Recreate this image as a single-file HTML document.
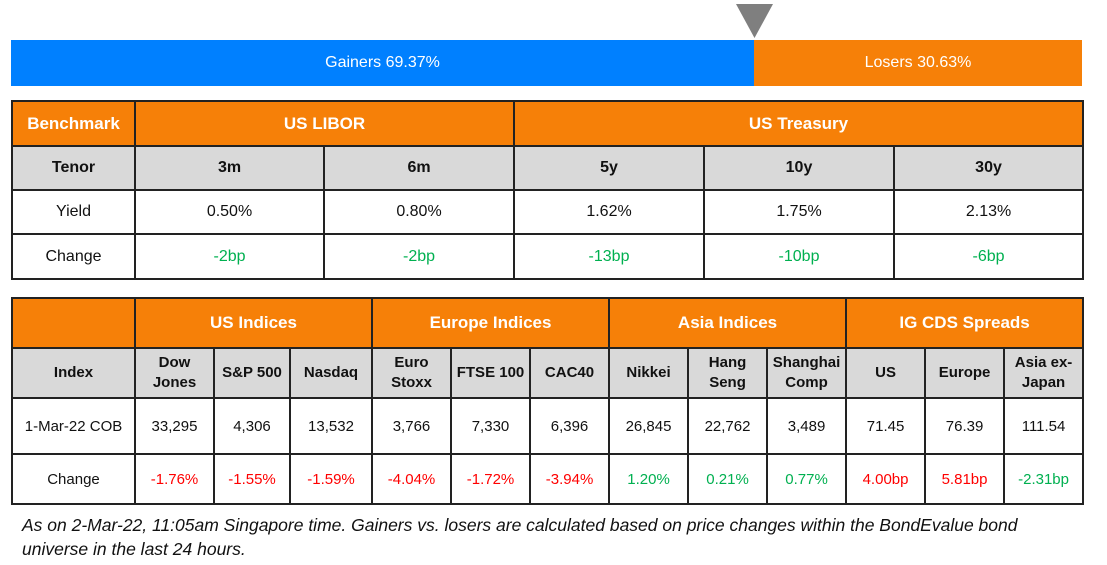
<!DOCTYPE html>
<html><head><meta charset="utf-8"><style>
body{margin:0;width:1107px;height:565px;background:#fff;position:relative;font-family:"Liberation Sans",sans-serif;overflow:hidden}
.bar{position:absolute;top:40px;height:46px;color:#fff;font-size:16px;line-height:46px;text-align:center}
table{position:absolute;left:11px;border-collapse:collapse;table-layout:fixed;font-size:16px}
td{border:2px solid #222;text-align:center;padding:0;color:#111}
.o{background:#f68008;color:#fff;font-weight:bold;font-size:17px}
.g{background:#d9d9d9;font-weight:bold}
.gr{color:#00b050}.rd{color:#ff0000}
.t2 .g{font-size:15px;line-height:20px}
.t2 td{font-size:15px}
.t2 .o{font-size:17px}
.note{position:absolute;left:22px;top:513px;font-style:italic;font-size:17.5px;line-height:24px;color:#111;width:1080px;white-space:nowrap}
</style></head><body>
<svg style="position:absolute;left:736px;top:4px" width="37" height="35"><polygon points="0,0 37,0 18.5,34" fill="#7f7f7f"/></svg>
<div class="bar" style="left:11px;width:743px;background:#0080ff">Gainers 69.37%</div>
<div class="bar" style="left:754px;width:328px;background:#f68008">Losers 30.63%</div>
<table style="top:100px;width:1071px">
<colgroup><col style="width:123px"><col style="width:189px"><col style="width:190px"><col style="width:190px"><col style="width:190px"><col style="width:189px"></colgroup>
<tr style="height:45px"><td class="o">Benchmark</td><td class="o" colspan="2">US LIBOR</td><td class="o" colspan="3">US Treasury</td></tr>
<tr style="height:44px"><td class="g">Tenor</td><td class="g">3m</td><td class="g">6m</td><td class="g">5y</td><td class="g">10y</td><td class="g">30y</td></tr>
<tr style="height:44px"><td>Yield</td><td>0.50%</td><td>0.80%</td><td>1.62%</td><td>1.75%</td><td>2.13%</td></tr>
<tr style="height:45px"><td>Change</td><td class="gr">-2bp</td><td class="gr">-2bp</td><td class="gr">-13bp</td><td class="gr">-10bp</td><td class="gr">-6bp</td></tr>
</table>
<table class="t2" style="top:297px;width:1071px">
<colgroup><col style="width:123px"><col style="width:79px"><col style="width:76px"><col style="width:82px"><col style="width:79px"><col style="width:79px"><col style="width:79px"><col style="width:79px"><col style="width:79px"><col style="width:79px"><col style="width:79px"><col style="width:79px"><col style="width:79px"></colgroup>
<tr style="height:50px"><td class="o"></td><td class="o" colspan="3">US Indices</td><td class="o" colspan="3">Europe Indices</td><td class="o" colspan="3">Asia Indices</td><td class="o" colspan="3">IG CDS Spreads</td></tr>
<tr style="height:50px"><td class="g">Index</td><td class="g">Dow<br>Jones</td><td class="g">S&amp;P 500</td><td class="g">Nasdaq</td><td class="g">Euro<br>Stoxx</td><td class="g">FTSE 100</td><td class="g">CAC40</td><td class="g">Nikkei</td><td class="g">Hang<br>Seng</td><td class="g">Shanghai<br>Comp</td><td class="g">US</td><td class="g">Europe</td><td class="g">Asia ex-<br>Japan</td></tr>
<tr style="height:56px"><td>1-Mar-22 COB</td><td>33,295</td><td>4,306</td><td>13,532</td><td>3,766</td><td>7,330</td><td>6,396</td><td>26,845</td><td>22,762</td><td>3,489</td><td>71.45</td><td>76.39</td><td>111.54</td></tr>
<tr style="height:50px"><td>Change</td><td class="rd">-1.76%</td><td class="rd">-1.55%</td><td class="rd">-1.59%</td><td class="rd">-4.04%</td><td class="rd">-1.72%</td><td class="rd">-3.94%</td><td class="gr">1.20%</td><td class="gr">0.21%</td><td class="gr">0.77%</td><td class="rd">4.00bp</td><td class="rd">5.81bp</td><td class="gr">-2.31bp</td></tr>
</table>
<div class="note">As on 2-Mar-22, 11:05am Singapore time. Gainers vs. losers are calculated based on price changes within the BondEvalue bond<br>universe in the last 24 hours.</div>
</body></html>
